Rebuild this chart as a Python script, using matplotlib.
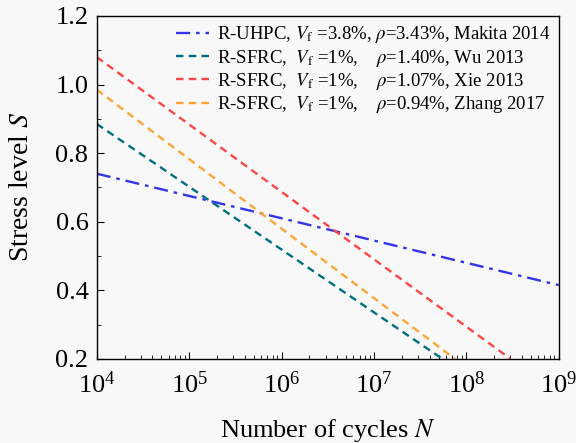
import matplotlib
matplotlib.use("Agg")
import matplotlib.pyplot as plt
from matplotlib.ticker import LogLocator, MultipleLocator

plt.rcParams['font.family'] = ['Liberation Serif', 'DejaVu Serif']
plt.rcParams['mathtext.fontset'] = 'stix'

# S-N lines (straight in log N), given by their two end points
N_uhpc = [1e4, 1e9]
S_uhpc = [0.74, 0.415]
N_wu = [1e4, 5.5e7]
S_wu = [0.885, 0.2]
N_xie = [1e4, 3.0e8]
S_xie = [1.08, 0.2]
N_zhang = [1e4, 7.5e7]
S_zhang = [0.985, 0.2]

labels = [
    r'R-UHPC, $V_{\mathrm{f}}$ =3.8%, $\rho$=3.43%, Makita 2014',
    r'R-SFRC,  $V_{\mathrm{f}}$ =1%,    $\rho$=1.40%, Wu 2013',
    r'R-SFRC,  $V_{\mathrm{f}}$ =1%,    $\rho$=1.07%, Xie 2013',
    r'R-SFRC,  $V_{\mathrm{f}}$ =1%,    $\rho$=0.94%, Zhang 2017',
]

fig = plt.figure(figsize=(5.76, 4.43), dpi=100, facecolor='#f8f8f8')
ax = fig.add_axes([0.168, 0.190, 0.802, 0.774])
ax.set_facecolor('#f8f8f8')

dash = (0, (3.2, 2.2))
ax.plot(N_uhpc, S_uhpc, color='#3535e8', lw=1.7, linestyle=(0, (6, 2.5, 1.5, 2.5)), label=labels[0])
ax.plot(N_wu, S_wu, color='#006e80', lw=1.7, linestyle=dash, label=labels[1])
ax.plot(N_xie, S_xie, color='#ff4545', lw=1.7, linestyle=dash, label=labels[2])
ax.plot(N_zhang, S_zhang, color='#ffa535', lw=1.7, linestyle=dash, label=labels[3])

ax.set_xscale('log')
ax.set_xlim(1e4, 1e9)
ax.set_ylim(0.2, 1.2)
ax.yaxis.set_major_locator(MultipleLocator(0.2))
ax.yaxis.set_minor_locator(MultipleLocator(0.1))
ax.xaxis.set_major_locator(LogLocator(base=10, numticks=10))
ax.xaxis.set_minor_locator(LogLocator(base=10, subs=range(2, 10), numticks=20))
ax.yaxis.set_major_formatter(plt.FuncFormatter(lambda v, p: f'{v:.1f}'))

ax.tick_params(which='both', direction='in', top=False, right=False, labelsize=19)
ax.tick_params(axis='x', pad=9)
ax.tick_params(axis='y', pad=6)
ax.tick_params(which='major', length=5)
ax.tick_params(which='minor', length=3)
for s in ax.spines.values():
    s.set_linewidth(1.0)

ax.set_xlabel(r'Number of cycles $N$', fontsize=19, labelpad=14)
ax.set_ylabel(r'Stress level $S$', fontsize=20, labelpad=15)

leg = ax.legend(loc='upper right', fontsize=13.5, frameon=False, handlelength=1.8,
                handletextpad=0.4, labelspacing=0.12, borderpad=0.35, borderaxespad=0.1)

fig.savefig('out.png', dpi=100, facecolor=fig.get_facecolor())
